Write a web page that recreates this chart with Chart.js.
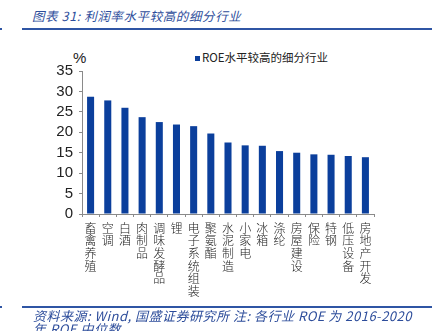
<!DOCTYPE html>
<html>
<head>
<meta charset="utf-8">
<script src="https://cdn.jsdelivr.net/npm/chart.js@4/dist/chart.umd.min.js"></script>
<style>
  html, body { margin:0; padding:0; background:#fff; }
  #wrap { position:relative; width:432px; height:331px; overflow:hidden; font-family:"Noto Sans CJK SC", sans-serif; }
  #chart { position:absolute; left:0; top:0; }
  .title { position:absolute; left:32px; top:6px; font-size:12.5px; letter-spacing:0.6px; font-style:italic; color:#2d4d9b; white-space:nowrap; }
  .rule { position:absolute; height:2px; background:#2f55a4; }
  .note { position:absolute; left:33px; font-size:13px; letter-spacing:0.5px; font-style:italic; color:#2d4d9b; white-space:nowrap; }
  .unit { position:absolute; left:73px; top:49px; font:15px Arial, "Liberation Sans", sans-serif; color:#222; }
  #legend { position:absolute; left:195px; top:49px; font-size:11.5px; color:#222; white-space:nowrap; }
  #legend span.box { display:inline-block; width:5px; height:5px; margin-right:2px; vertical-align:1px; }
</style>
</head>
<body>
<div id="wrap">
  <div class="title">图表 31:  利润率水平较高的细分行业</div>
  <div class="rule" style="left:22px; right:0; top:28px;"></div>
  <div class="rule" style="left:0; width:2px; top:28px;"></div>
  <div class="unit">%</div>
  <div id="legend"></div>
  <canvas id="chart" width="432" height="331"></canvas>
  <div class="rule" style="left:22px; right:0; top:306px;"></div>
  <div class="rule" style="left:0; width:2px; top:306px;"></div>
  <div class="note" style="top:306px;">资料来源:  Wind,  国盛证券研究所  注:  各行业 ROE 为 2016-2020</div>
  <div class="note" style="top:319px;">年 ROE 中位数</div>
</div>
<script>
// ==== DATA ====
const industries = ['畜禽养殖','空调','白酒','肉制品','调味发酵品','锂','电子系统组装','聚氨酯',
                    '水泥制造','小家电','冰箱','涤纶','房屋建设','保险','特钢','低压设备','房地产开发'];
const roeValues  = [28.7, 27.8, 26.0, 23.7, 22.5, 21.9, 21.5, 19.7,
                    17.5, 16.8, 16.7, 15.4, 15.0, 14.6, 14.5, 14.2, 13.9];
const seriesName = 'ROE水平较高的细分行业';
const yTicks     = [0, 5, 10, 15, 20, 25, 30, 35];

const BAR_BLUE = '#0b3f9c';
const AXIS_GREY = '#8a8a8a';

const chart = new Chart(document.getElementById('chart'), {
  type: 'bar',
  data: {
    // vertical text: one character per line
    labels: industries.map(s => s.split('')),
    datasets: [{
      label: seriesName,
      data: roeValues,
      backgroundColor: BAR_BLUE,
      barPercentage: 0.41,
      categoryPercentage: 1.0
    }]
  },
  options: {
    responsive: false,
    animation: false,
    layout: { padding: { top: 71, left: 0, right: 58, bottom: 0 } },
    plugins: { legend: { display: false }, tooltip: { enabled: false } },
    scales: {
      x: {
        grid: { drawOnChartArea: false, offset: true, tickLength: 3, color: AXIS_GREY },
        border: { color: AXIS_GREY, width: 1 },
        ticks: {
          maxRotation: 0, autoSkip: false, padding: 5, color: '#222',
          font: { family: '"Noto Sans CJK SC", sans-serif', size: 12, weight: 300, lineHeight: 1.05 }
        },
        afterFit: s => { s.height = 117; }
      },
      y: {
        min: 0, max: 35,
        afterBuildTicks: s => { s.ticks = yTicks.map(v => ({ value: v })); },
        grid: { drawOnChartArea: false, tickLength: 3, color: AXIS_GREY },
        border: { color: AXIS_GREY, width: 1 },
        ticks: { autoSkip: false, padding: 6, color: '#222', font: { family: 'Arial, "Liberation Sans", sans-serif', size: 15 } },
        afterFit: s => { s.width = 82; }
      }
    }
  }
});

// html legend built from the dataset
const lg = document.getElementById('legend');
chart.data.datasets.forEach(ds => {
  lg.innerHTML += `<span class="box" style="background:${ds.backgroundColor}"></span>${ds.label}`;
});
</script>
</body>
</html>
